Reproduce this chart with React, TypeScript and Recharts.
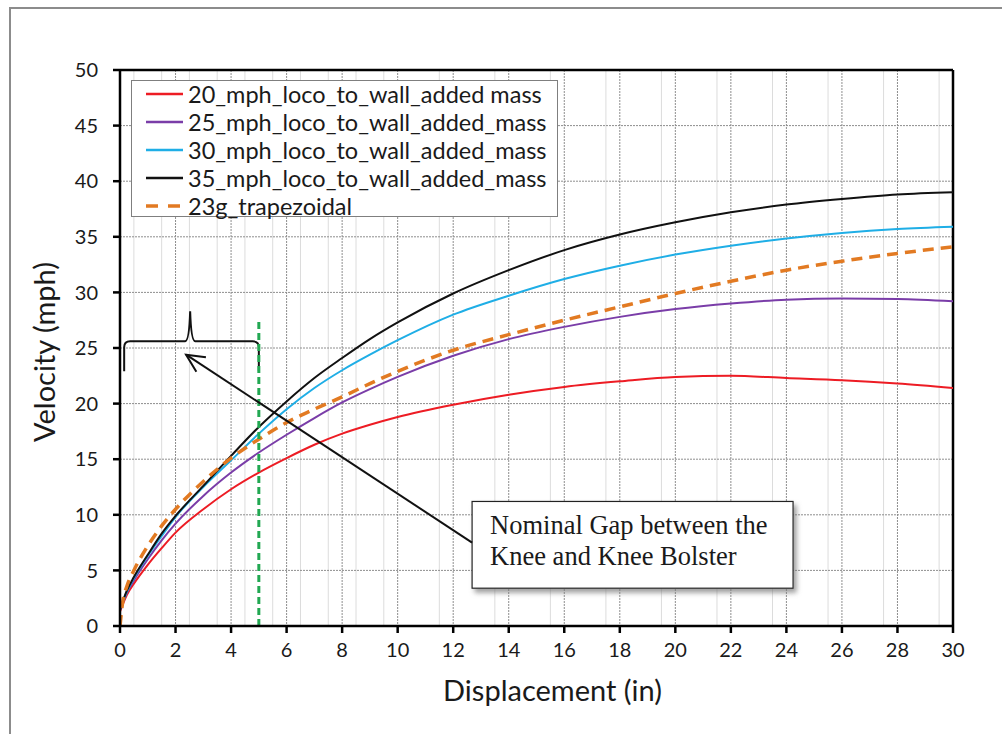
import {
  LineChart,
  Line,
  XAxis,
  YAxis,
  CartesianGrid,
  ReferenceLine,
  ReferenceArea,
} from "recharts";

const FONT = "Lato, 'Open Sans', sans-serif";

// displacement (in) shared by the four test curves
const DISP = [0, 0.25, 0.5, 1, 1.5, 2, 3, 4, 5, 6, 7, 8, 9, 10, 12, 14, 16, 18, 20, 22, 24, 26, 28, 30];
const V20 = [1.3, 2.8, 3.8, 5.5, 7.0, 8.4, 10.5, 12.3, 13.8, 15.1, 16.3, 17.3, 18.1, 18.8, 19.9, 20.8, 21.5, 22.0, 22.4, 22.5, 22.3, 22.1, 21.8, 21.4];
const V25 = [1.4, 3.0, 4.1, 6.0, 7.7, 9.2, 11.7, 13.8, 15.6, 17.2, 18.7, 20.1, 21.3, 22.4, 24.3, 25.8, 26.9, 27.8, 28.5, 29.0, 29.35, 29.45, 29.4, 29.2];
const V30 = [1.5, 3.1, 4.3, 6.3, 8.1, 9.8, 12.5, 14.9, 17.3, 19.5, 21.4, 23.0, 24.4, 25.7, 28.0, 29.7, 31.2, 32.4, 33.4, 34.2, 34.85, 35.35, 35.7, 35.9];
const V35 = [1.5, 3.2, 4.4, 6.4, 8.3, 9.9, 12.6, 15.3, 17.9, 20.2, 22.3, 24.1, 25.8, 27.3, 29.9, 32.0, 33.8, 35.2, 36.3, 37.2, 37.9, 38.4, 38.8, 39.0];

// 23g trapezoidal pulse
const TRAP_DISP = [0, 0.1, 0.25, 0.5, 1, 1.5, 2, 3, 4, 5, 6, 7, 8, 9, 10, 12, 14, 16, 18, 20, 22, 24, 26, 28, 30];
const TRAP_V = [0, 2.2, 3.6, 5.0, 7.2, 9.0, 10.5, 13.0, 15.1, 16.8, 18.3, 19.5, 20.6, 21.8, 22.9, 24.8, 26.2, 27.5, 28.7, 29.9, 31.0, 32.0, 32.8, 33.5, 34.1];

const X_TICKS = [0, 2, 4, 6, 8, 10, 12, 14, 16, 18, 20, 22, 24, 26, 28, 30];
const Y_TICKS = [0, 5, 10, 15, 20, 25, 30, 35, 40, 45, 50];
const X_MINOR = Array.from({ length: 61 }, (_, i) => i * 0.5).filter((v) => v % 2 !== 0);

const pts = (xs: number[], ys: number[]) => xs.map((x, i) => ({ x, v: ys[i] }));

const SERIES = [
  { name: "20_mph_loco_to_wall_added mass", color: "#ED1C24", width: 2, dash: undefined, data: pts(DISP, V20) },
  { name: "25_mph_loco_to_wall_added_mass", color: "#7A3DA8", width: 2, dash: undefined, data: pts(DISP, V25) },
  { name: "30_mph_loco_to_wall_added_mass", color: "#1FAEE6", width: 2, dash: undefined, data: pts(DISP, V30) },
  { name: "35_mph_loco_to_wall_added_mass", color: "#111111", width: 2, dash: undefined, data: pts(DISP, V35) },
  { name: "23g_trapezoidal", color: "#E27A22", width: 3.5, dash: "11 7", data: pts(TRAP_DISP, TRAP_V) },
];

function Brace(props: any) {
  const { x, y, width: w, height: h } = props;
  const bar = y + h / 2;
  const px = x + w * 0.49;
  const r = 6;
  const d = `M${x},${y + h} L${x},${bar + r} Q${x},${bar} ${x + r},${bar} L${px - 5},${bar} Q${px - 1},${bar} ${px},${y} Q${px + 1},${bar} ${px + 5},${bar} L${x + w - r},${bar} Q${x + w},${bar} ${x + w},${bar + r} L${x + w},${y + h}`;
  return <path d={d} fill="none" stroke="#111" strokeWidth={2} />;
}

function Arrow(props: any) {
  const { x1, y1, x2, y2 } = props;
  const a = Math.atan2(y2 - y1, x2 - x1);
  const L = 20;
  const s = 0.45;
  const p1 = [x2 - L * Math.cos(a - s), y2 - L * Math.sin(a - s)];
  const p2 = [x2 - L * Math.cos(a + s), y2 - L * Math.sin(a + s)];
  return (
    <g stroke="#111" strokeWidth={2} fill="none">
      <line x1={x1} y1={y1} x2={x2} y2={y2} />
      <polyline points={`${p1[0]},${p1[1]} ${x2},${y2} ${p2[0]},${p2[1]}`} />
    </g>
  );
}

function NoteBox(props: any) {
  const { x, y, width: w, height: h } = props;
  return (
    <g>
      <defs>
        <filter id="shadow" x="-10%" y="-10%" width="130%" height="140%">
          <feDropShadow dx="3" dy="4" stdDeviation="2.5" floodColor="#777" floodOpacity="0.7" />
        </filter>
      </defs>
      <rect x={x} y={y} width={w} height={h} fill="#fff" stroke="#222" strokeWidth={1.2} filter="url(#shadow)" />
      <text x={x + 18} y={y + 33} fontFamily="'Liberation Serif', serif" fontSize={26.5} fill="#1a1a1a">
        Nominal Gap between the
      </text>
      <text x={x + 18} y={y + 64} fontFamily="'Liberation Serif', serif" fontSize={26.5} fill="#1a1a1a">
        Knee and Knee Bolster
      </text>
    </g>
  );
}

export default function App() {
  const tick = { fontSize: 20, fill: "#1a1a1a", fontFamily: FONT };
  return (
    <div style={{ position: "absolute", left: 0, top: 0, width: 1002, height: 734, background: "#fff", overflow: "hidden" }}>
      <div style={{ position: "absolute", left: 9, top: 7, width: 993, height: 727, borderLeft: "2px solid #8c8c8c", borderTop: "2px solid #8c8c8c" }} />
      <LineChart width={1002} height={734} margin={{ top: 70, right: 49, bottom: 58, left: 60 }}>
        <CartesianGrid horizontal={false} verticalValues={X_MINOR} stroke="#dcdcdc" strokeWidth={1} />
        <CartesianGrid stroke="#8e8e8e" strokeDasharray="2 1" strokeWidth={1} />
        <XAxis
          type="number"
          dataKey="x"
          domain={[0, 30]}
          ticks={X_TICKS}
          allowDataOverflow
          height={50}
          tick={tick}
          tickSize={7}
          tickMargin={10}
          axisLine={{ stroke: "#000", strokeWidth: 2.5 }}
          tickLine={{ stroke: "#000", strokeWidth: 2.5 }}
          label={{ value: "Displacement (in)", position: "bottom", offset: 4, dx: 16, style: { fontSize: 29, fill: "#1a1a1a", fontFamily: FONT } }}
        />
        <YAxis
          type="number"
          domain={[0, 50]}
          ticks={Y_TICKS}
          width={60}
          tick={tick}
          tickSize={7}
          tickMargin={15}
          axisLine={{ stroke: "#000", strokeWidth: 2.5 }}
          tickLine={{ stroke: "#000", strokeWidth: 2.5 }}
          label={{ value: "Velocity (mph)", angle: -90, position: "center", dx: -45, dy: 4, style: { fontSize: 29, fill: "#1a1a1a", fontFamily: FONT } }}
        />
        <ReferenceLine y={50} stroke="#000" strokeWidth={2.5} />
        <ReferenceLine x={30} stroke="#000" strokeWidth={2.5} />
        {SERIES.map((s) => (
          <Line
            key={s.name}
            data={s.data}
            dataKey="v"
            name={s.name}
            type="monotone"
            stroke={s.color}
            strokeWidth={s.width}
            strokeDasharray={s.dash}
            dot={false}
            activeDot={false}
            isAnimationActive={false}
          />
        ))}
        <ReferenceLine
          segment={[{ x: 5, y: 0 }, { x: 5, y: 27.7 }]}
          stroke="#22A852"
          strokeWidth={3}
          strokeDasharray="7 4"
        />
        <ReferenceArea x1={0.15} x2={5.0} y1={22.9} y2={28.3} shape={Brace} />
        <ReferenceLine segment={[{ x: 12.68, y: 7.5 }, { x: 2.38, y: 24.4 }]} shape={Arrow} />
        <ReferenceArea x1={12.68} x2={24.24} y1={3.4} y2={11.2} shape={NoteBox} />
      </LineChart>
      <div
        style={{
          position: "absolute",
          left: 131,
          top: 80,
          width: 425,
          height: 135,
          border: "1px solid #7f7f7f",
          background: "#fff",
          fontFamily: FONT,
          fontSize: 23.5,
          color: "#1a1a1a",
        }}
      >
        {SERIES.map((s, i) => (
          <div key={s.name} style={{ position: "absolute", left: 0, top: i * 28 - 1, height: 28, display: "flex", alignItems: "center", whiteSpace: "nowrap" }}>
            <svg width={56} height={28}>
              <line x1={14} x2={51} y1={14} y2={14} stroke={s.color} strokeWidth={s.dash ? 3.5 : 2.5} strokeDasharray={s.dash ? "12 10" : undefined} />
            </svg>
            <span>{s.name}</span>
          </div>
        ))}
      </div>
    </div>
  );
}
